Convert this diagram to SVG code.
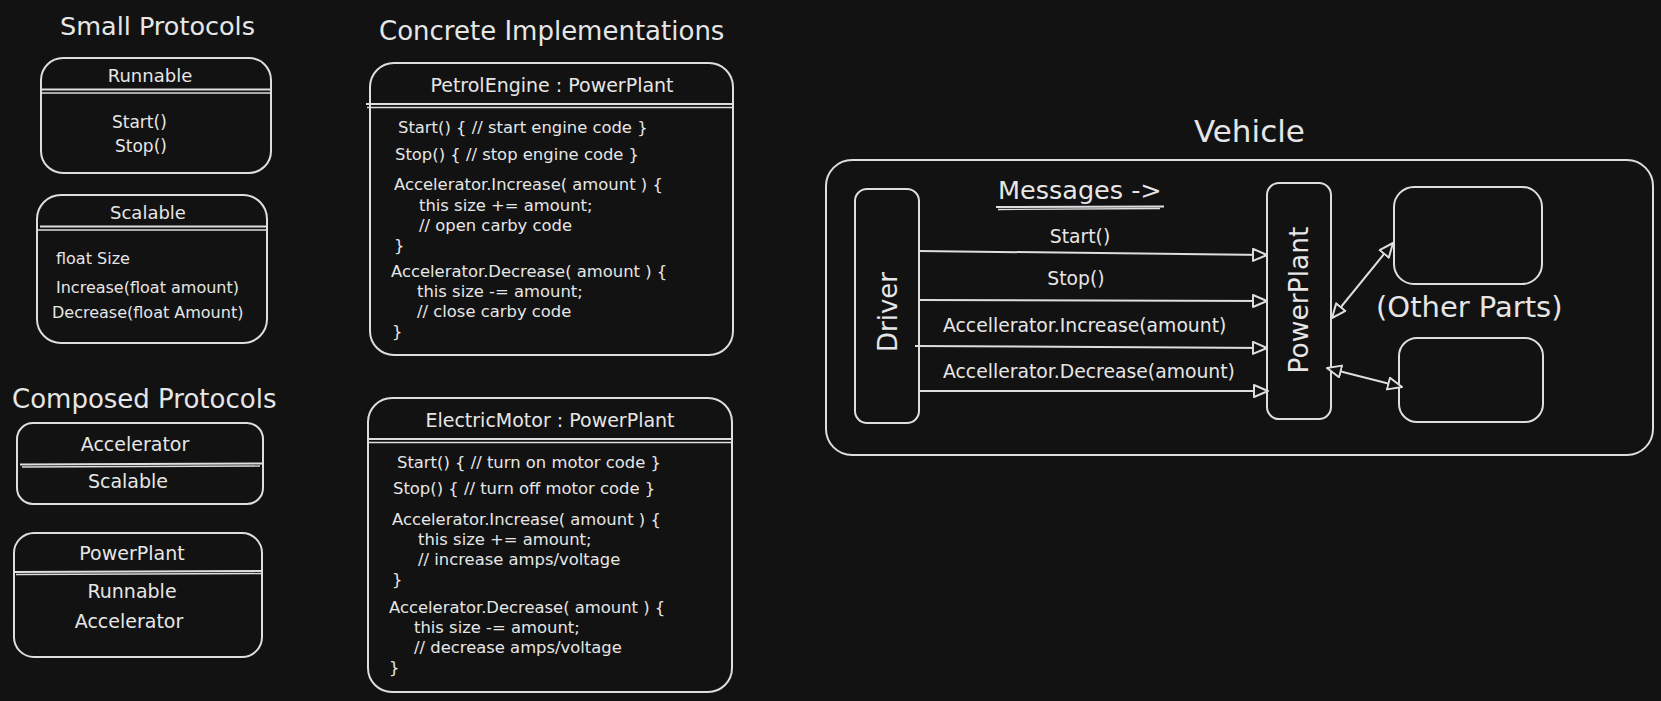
<svg xmlns="http://www.w3.org/2000/svg" width="1661" height="701" viewBox="0 0 1661 701">
<defs>
<marker id="arr" markerUnits="userSpaceOnUse" markerWidth="20" markerHeight="16" refX="15" refY="7" orient="auto-start-reverse">
<path d="M1,1 L15,7 L1,13 Z" fill="#121212" stroke="#dedede" stroke-width="2" stroke-linejoin="round"/>
</marker>
<style>
.box{fill:#121212;stroke:#dedede;stroke-width:2}
.ln{fill:none;stroke:#dedede;stroke-width:2}
.ln2{fill:none;stroke:#dedede;stroke-width:1.3}
.con{fill:none;stroke:#dedede;stroke-width:2}
text{font-family:"DejaVu Sans","Noto Sans",sans-serif;fill:#e6e6e6}
.title{font-size:26px}
.hd{font-size:19px;text-anchor:middle}
.it{font-size:16px}
.code{font-size:16.4px}
.lbl{font-size:18.8px}
.mid{text-anchor:middle}
</style>
</defs>
<rect width="1661" height="701" fill="#121212"/>

<g id="titles">
<text class="title" x="60" y="35" style="font-size:25.5px">Small Protocols</text>
<text class="title" x="12" y="408">Composed Protocols</text>
<text class="title" x="379" y="40">Concrete Implementations</text>
<text x="1194" y="142" style="font-size:31px">Vehicle</text>
</g>

<g id="runnable">
<rect class="box" x="41" y="58" width="230" height="115" rx="22"/>
<path class="ln" d="M42,89.5 L270,89.5"/>
<path class="ln2" d="M42,93 L270,93"/>
<text class="hd" x="150" y="82" style="font-size:18px">Runnable</text>
<text x="112" y="128" style="font-size:17px">Start()</text>
<text x="115" y="152" style="font-size:17px">Stop()</text>
</g>

<g id="scalable">
<rect class="box" x="37" y="195" width="230" height="148" rx="24"/>
<path class="ln" d="M40,226.5 L268,226.5"/>
<path class="ln2" d="M38,230 L266,230"/>
<text class="hd" x="148" y="219" style="font-size:18px">Scalable</text>
<text class="it" x="56" y="264">float Size</text>
<text class="it" x="56" y="293">Increase(float amount)</text>
<text class="it" x="52" y="318">Decrease(float Amount)</text>
</g>

<g id="accelerator">
<rect class="box" x="17" y="423" width="246" height="81" rx="16"/>
<path class="ln" d="M20,464.5 L262,463.5"/>
<path class="ln2" d="M22,467 L260,466"/>
<text class="hd" x="135" y="451">Accelerator</text>
<text class="hd" x="128" y="488">Scalable</text>
</g>

<g id="powerplant-protocol">
<rect class="box" x="14" y="533" width="248" height="124" rx="20"/>
<path class="ln" d="M15,572 L262,571"/>
<path class="ln2" d="M16,574.5 L261,573.5"/>
<text class="hd" x="132" y="560">PowerPlant</text>
<text class="hd" x="132" y="598">Runnable</text>
<text class="hd" x="129" y="628">Accelerator</text>
</g>

<g id="petrol-engine">
<rect class="box" x="370" y="63" width="363" height="292" rx="24"/>
<path class="ln" d="M366,104 L733,104"/>
<path class="ln2" d="M367,107.5 L732,107.5"/>
<text class="hd" x="552" y="92">PetrolEngine : PowerPlant</text>
<text class="code" x="398" y="133">Start() { // start engine code }</text>
<text class="code" x="395" y="160">Stop() { // stop engine code }</text>
<text class="code" x="394" y="190">Accelerator.Increase( amount ) {</text>
<text class="code" x="419" y="211">this size += amount;</text>
<text class="code" x="419" y="231">// open carby code</text>
<text class="code" x="394" y="251">}</text>
<text class="code" x="391" y="277">Accelerator.Decrease( amount ) {</text>
<text class="code" x="417" y="297">this size -= amount;</text>
<text class="code" x="417" y="317">// close carby code</text>
<text class="code" x="392" y="337">}</text>
</g>

<g id="electric-motor">
<rect class="box" x="368" y="398" width="364" height="294" rx="24"/>
<path class="ln" d="M368,439 L732,439"/>
<path class="ln2" d="M369,442.5 L731,442.5"/>
<text class="hd" x="550" y="427">ElectricMotor : PowerPlant</text>
<text class="code" x="397" y="468">Start() { // turn on motor code }</text>
<text class="code" x="393" y="494">Stop() { // turn off motor code }</text>
<text class="code" x="392" y="525">Accelerator.Increase( amount ) {</text>
<text class="code" x="418" y="545">this size += amount;</text>
<text class="code" x="418" y="565">// increase amps/voltage</text>
<text class="code" x="392" y="585">}</text>
<text class="code" x="389" y="613">Accelerator.Decrease( amount ) {</text>
<text class="code" x="414" y="633">this size -= amount;</text>
<text class="code" x="414" y="653">// decrease amps/voltage</text>
<text class="code" x="389" y="673">}</text>
</g>

<g id="vehicle">
<rect class="box" x="826" y="160" width="827" height="295" rx="26"/>
<text x="998" y="199" style="font-size:25.5px">Messages -&gt;</text>
<path class="ln" d="M996,207 L1164,206.5"/>
<path class="ln2" d="M998,209.5 L1160,208.5"/>
</g>

<g id="driver">
<rect class="box" x="855" y="189" width="64" height="234" rx="12"/>
<text class="mid" transform="translate(888,312) rotate(-90)" x="0" y="9" style="font-size:26px">Driver</text>
</g>

<g id="powerplant">
<rect class="box" x="1267" y="183" width="64" height="236" rx="12"/>
<text class="mid" transform="translate(1299,300) rotate(-90)" x="0" y="9" style="font-size:26.5px">PowerPlant</text>
</g>

<g id="other-part-1">
<rect class="box" x="1394" y="187" width="148" height="97" rx="20"/>
</g>
<g id="other-part-2">
<rect class="box" x="1399" y="338" width="144" height="84" rx="18"/>
</g>
<g id="other-parts-label">
<text x="1376" y="317" style="font-size:29px">(Other Parts)</text>
</g>

<g id="connectors">
<path class="con" d="M918,251 L1267,255" marker-end="url(#arr)"/>
<path class="con" d="M918,300 L1267,301" marker-end="url(#arr)"/>
<path class="con" d="M915,346 L1267,348" marker-end="url(#arr)"/>
<path class="con" d="M918,391 L1268,391" marker-end="url(#arr)"/>
<path class="con" d="M1332,318 L1393,243" marker-start="url(#arr)" marker-end="url(#arr)"/>
<path class="con" d="M1327,368 L1402,387" marker-start="url(#arr)" marker-end="url(#arr)"/>
<text class="lbl mid" x="1080" y="243">Start()</text>
<text class="lbl mid" x="1076" y="285">Stop()</text>
<text class="lbl" x="943" y="332">Accellerator.Increase(amount)</text>
<text class="lbl" x="943" y="378">Accellerator.Decrease(amount)</text>
</g>
</svg>
